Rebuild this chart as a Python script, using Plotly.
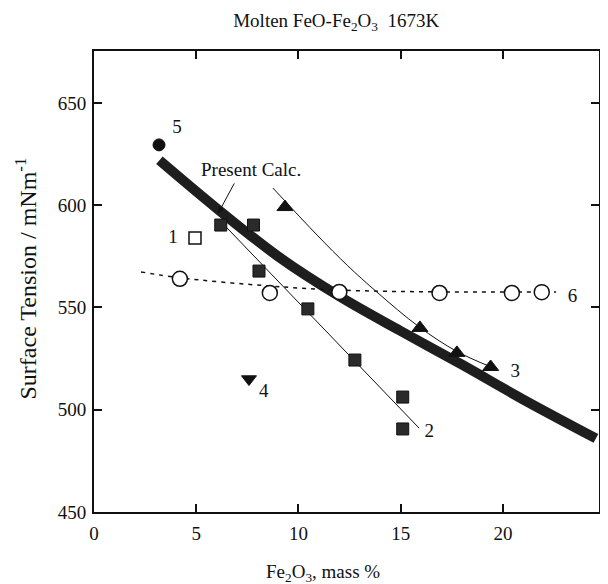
import plotly.graph_objects as go

# ---- data ----
calc_x = [3.2, 6.0, 9.0, 12.0, 15.0, 18.0, 21.0, 24.55]
calc_y = [622, 598.5, 575, 555.5, 538.5, 522, 505, 486]

s1_x = [4.94]
s1_y = [584]

s2_x = [6.2, 7.8, 8.07, 10.46, 12.76, 15.1, 15.1]
s2_y = [590.3, 590.3, 567.8, 549.3, 524.3, 506.2, 490.6]
s2_line_x = [6.4, 15.9]
s2_line_y = [590, 491]

s3_x = [9.34, 15.94, 17.75, 19.4]
s3_y = [599.1, 540, 527.8, 520.9]
s3_curve_x = [8.75, 10.95, 12.4, 13.84, 15.9, 17.75, 19.4]
s3_curve_y = [608.4, 585, 570.5, 557.5, 540.5, 528.5, 521]

s4_x = [7.58]
s4_y = [515]

s5_x = [3.18]
s5_y = [629.5]

s6_x = [4.2, 8.6, 12.0, 16.9, 20.44, 21.9]
s6_y = [564, 557.1, 557.6, 557.1, 557.1, 557.5]
s6_curve_x = [2.3, 4.2, 8.6, 12.0, 17.0, 22.6]
s6_curve_y = [567.4, 564.5, 560.5, 558.5, 557.6, 557.6]

series_labels = ["1", "2", "3", "4", "5", "6"]
label_x = [3.86, 16.4, 20.6, 8.3, 4.06, 23.4]
label_y = [584, 489, 518.5, 508.6, 637.8, 555]

x_ticks = [0, 5, 10, 15, 20]
y_ticks = [450, 500, 550, 600, 650]

FONT = "Liberation Serif, Times New Roman, serif"
BLACK = "#111111"

fig = go.Figure()

fig.add_trace(go.Scatter(x=calc_x, y=calc_y, mode="lines",
                         line=dict(color="#1e1e1e", width=10, shape="spline")))
fig.add_trace(go.Scatter(x=s6_curve_x, y=s6_curve_y, mode="lines",
                         line=dict(color=BLACK, width=1.5, dash="4px,5px", shape="spline")))
fig.add_trace(go.Scatter(x=s2_line_x, y=s2_line_y, mode="lines",
                         line=dict(color=BLACK, width=1)))
fig.add_trace(go.Scatter(x=s3_curve_x, y=s3_curve_y, mode="lines",
                         line=dict(color=BLACK, width=1, shape="spline")))

fig.add_trace(go.Scatter(x=s6_x, y=s6_y, mode="markers",
                         marker=dict(symbol="circle", size=15, color="white",
                                     line=dict(color=BLACK, width=1.5))))
fig.add_trace(go.Scatter(x=s1_x, y=s1_y, mode="markers",
                         marker=dict(symbol="square", size=12, color="white",
                                     line=dict(color=BLACK, width=1.5))))
fig.add_trace(go.Scatter(x=s2_x, y=s2_y, mode="markers",
                         marker=dict(symbol="square", size=12, color="#2a2a2a",
                                     line=dict(color=BLACK, width=1))))
fig.add_trace(go.Scatter(x=s3_x, y=s3_y, mode="markers",
                         marker=dict(symbol="triangle-up", size=14, color=BLACK,
                                     line=dict(color=BLACK, width=1))))
fig.add_trace(go.Scatter(x=s4_x, y=s4_y, mode="markers",
                         marker=dict(symbol="triangle-down", size=13, color=BLACK,
                                     line=dict(color=BLACK, width=1))))
fig.add_trace(go.Scatter(x=s5_x, y=s5_y, mode="markers",
                         marker=dict(symbol="circle", size=12, color=BLACK,
                                     line=dict(color=BLACK, width=1))))

fig.add_trace(go.Scatter(x=label_x, y=label_y, mode="text", text=series_labels,
                         textfont=dict(family=FONT, size=19, color=BLACK)))

# arrow from the "Present Calc." label to the curve
fig.add_annotation(x=6.06, y=595.8, ax=6.9, ay=611.4, axref="x", ayref="y",
                   xref="x", yref="y", text="", showarrow=True,
                   arrowhead=2, arrowsize=1.3, arrowwidth=1, arrowcolor=BLACK)
fig.add_annotation(x=7.68, y=617.7, xref="x", yref="y", text="Present Calc.",
                   showarrow=False, font=dict(family=FONT, size=19, color=BLACK))

# axis titles
fig.add_annotation(x=0, y=0.5, xref="paper", yref="paper", xanchor="center", yanchor="middle",
                   xshift=-69, yshift=3, textangle=-90, showarrow=False,
                   text="Surface Tension / mNm<sup>-1</sup>",
                   font=dict(family=FONT, size=24, color=BLACK))
fig.add_annotation(x=0.5, y=0, xref="paper", yref="paper", xanchor="center", yanchor="middle",
                   xshift=-24, yshift=-61, showarrow=False,
                   text="Fe<sub>2</sub>O<sub>3</sub>, mass %",
                   font=dict(family=FONT, size=19, color=BLACK))

fig.update_layout(
    width=600, height=576,
    margin=dict(l=86, r=7, t=43, b=72),
    paper_bgcolor="white", plot_bgcolor="white",
    showlegend=False,
    title=dict(text="Molten FeO-Fe<sub>2</sub>O<sub>3</sub>  1673K", x=0.547, xanchor="center",
               y=0.979, yanchor="middle",
               font=dict(family=FONT, size=19, color=BLACK)),
    font=dict(family=FONT, color=BLACK),
)
fig.update_xaxes(range=[0, 24.7], tickvals=x_ticks, ticks="inside", ticklen=8, tickwidth=2,
                 tickcolor=BLACK, showline=True, linecolor=BLACK, linewidth=2, mirror="ticks",
                 showgrid=False, zeroline=False, ticklabelstandoff=3,
                 tickfont=dict(family=FONT, size=19, color=BLACK))
fig.update_yaxes(range=[450, 675.4], tickvals=y_ticks, ticks="inside", ticklen=8, tickwidth=2,
                 tickcolor=BLACK, showline=True, linecolor=BLACK, linewidth=2, mirror="ticks",
                 showgrid=False, zeroline=False, ticklabelstandoff=2,
                 tickfont=dict(family=FONT, size=19, color=BLACK))

fig.write_html("out.html")
